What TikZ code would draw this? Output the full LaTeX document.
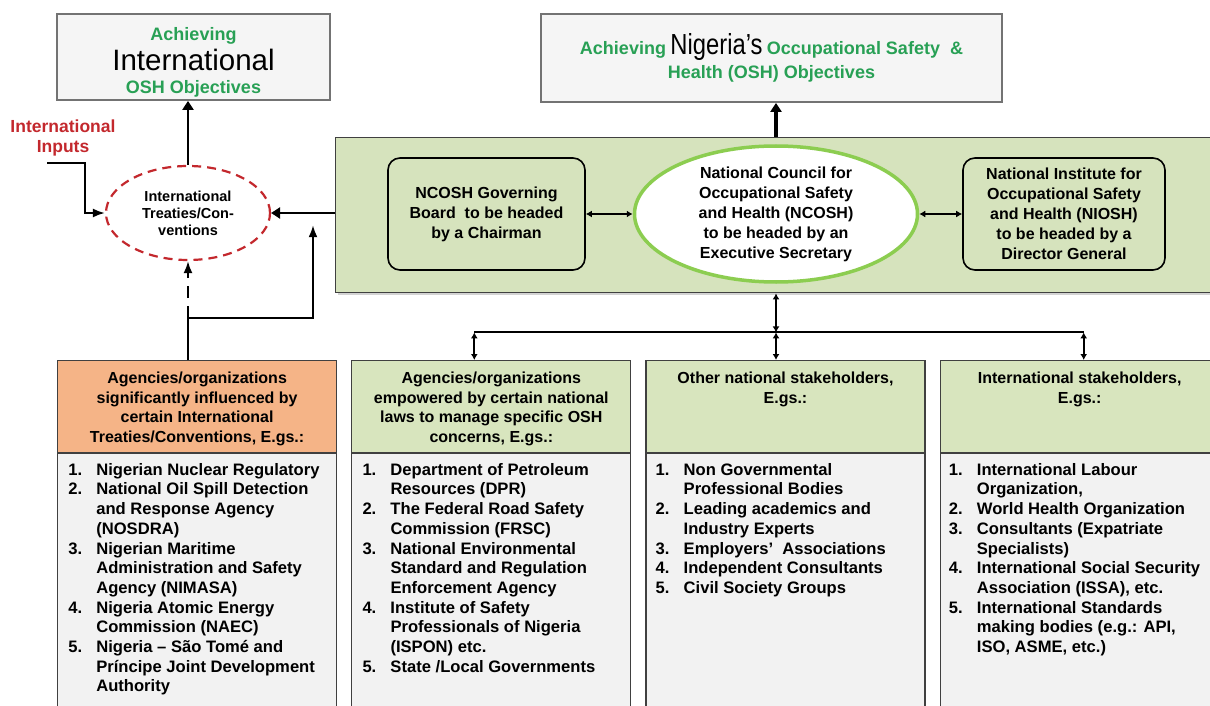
\documentclass[tikz,border=0pt]{standalone}
\usepackage{fontspec}
\setmainfont{Liberation Sans}
\usetikzlibrary{arrows.meta,shapes.geometric,positioning,calc,shadows}

\definecolor{oshgreen}{RGB}{40,160,85}
\definecolor{oshred}{RGB}{195,40,45}
\definecolor{bandgreen}{RGB}{214,227,189}
\definecolor{hdrgreen}{RGB}{216,229,190}
\definecolor{hdrorange}{RGB}{245,180,135}
\definecolor{ringgreen}{RGB}{140,205,80}

\newcommand{\oshlist}[1]{\begin{tabular}{@{}p{28pt}@{}l@{}}#1\end{tabular}}
\newcommand{\oshgoal}[1]{{\color{oshgreen}\fontsize{18}{20}\selectfont #1}}

\begin{document}
\begin{tikzpicture}[x=1pt,y=-1pt,>=Latex,semithick,font=\bfseries\fontsize{16}{20}\selectfont]
  \tikzstyle{goal}=[draw=black!55, line width=1.8pt, fill=black!4, align=center, inner sep=0pt]
  \tikzstyle{band}=[draw=black!75, line width=1.4pt, fill=bandgreen, anchor=north west, drop shadow={opacity=0.35}]
  \tikzstyle{unit}=[draw=black, line width=1.6pt, rounded corners=12pt, fill=bandgreen, align=center, inner sep=0pt]
  \tikzstyle{hdr}=[draw=black!75, line width=1.2pt, minimum width=279pt, minimum height=92pt, anchor=north west, inner sep=0pt]
  \tikzstyle{hdrtext}=[align=center, anchor=north, inner sep=0pt, font=\bfseries\fontsize{16}{19.5}\selectfont]
  \tikzstyle{lst}=[draw=black!75, line width=1.2pt, fill=black!5, minimum width=279pt, minimum height=270pt, inner sep=0pt]
  \tikzstyle{lsttext}=[anchor=north west, inner sep=0pt, font=\bfseries\fontsize{16.6}{19.7}\selectfont]
  \tikzstyle{flow}=[->, line width=2.6pt, >={Triangle[length=9pt,width=11pt]}]
  \tikzstyle{link}=[<->, line width=2pt, >={Latex[length=6pt,width=7pt]}]
  \tikzstyle{wire}=[line width=2pt]

  \useasboundingbox (0,0) rectangle (1210,706);

  % objectives
  \node[goal, minimum width=273pt, minimum height=86pt] (intobj) at (193.5,57) {};
  \node[align=center, inner sep=0pt] (intobjtext) at (193.5,62)
    {\oshgoal{Achieving}\\[4pt]{\fontsize{29.5}{30}\selectfont\mdseries International}\\[3pt]\oshgoal{OSH Objectives}};
  \node[goal, minimum width=461pt, minimum height=88pt] (natobj) at (771.5,58)
    {\oshgoal{Achieving} {\fontsize{29}{30}\selectfont\mdseries\scalebox{0.82}[1]{Nigeria’s}} \oshgoal{Occupational Safety~ \&}\\[4pt]\oshgoal{Health (OSH) Objectives}};

  % national council band
  \node[band, minimum width=880pt, minimum height=155pt] (band) at (335,137) {};
  \node[unit, minimum width=197pt, minimum height=112pt] (board) at (486.5,214)
    {NCOSH Governing\\Board~ to be headed\\by a Chairman};
  \node[ellipse, draw=ringgreen, line width=3.5pt, fill=white, minimum width=283pt, minimum height=136pt, align=center, inner sep=0pt] (ncosh) at (776,214)
    {National Council for\\Occupational Safety\\and Health (NCOSH)\\to be headed by an\\Executive Secretary};
  \node[unit, minimum width=202pt, minimum height=112pt] (niosh) at (1064,214)
    {National Institute for\\Occupational Safety\\and Health (NIOSH)\\to be headed by a\\Director General};

  % international side
  \node[ellipse, draw=oshred, dash pattern=on 9pt off 6pt, line width=2.2pt, minimum width=164pt, minimum height=94pt, align=center, inner sep=0pt,
        font=\bfseries\fontsize{14.5}{17}\selectfont] (treaty) at (188,213) {International\\Treaties/Con-\\ventions};
  \node[text=oshred, align=center, inner sep=0pt, font=\bfseries\fontsize{17.5}{20}\selectfont] (inputs) at (63,138) {International\\Inputs};
  \coordinate (in0) at (47,163);

  % stakeholder columns
  \node[hdr, fill=hdrorange] (h1) at (57,360) {};
  \node[hdr, fill=hdrgreen, right=14pt of h1] (h2) {};
  \node[hdr, fill=hdrgreen, right=14pt of h2] (h3) {};
  \node[hdr, fill=hdrgreen, right=14pt of h3] (h4) {};
  \node[hdrtext, below=12pt of h1.north] (t1) {Agencies/organizations\\significantly influenced by\\certain International\\Treaties/Conventions, E.gs.:};
  \node[hdrtext, below=12pt of h2.north] (t2) {Agencies/organizations\\empowered by certain national\\laws to manage specific OSH\\concerns, E.gs.:};
  \node[hdrtext, below=12pt of h3.north] (t3) {Other national stakeholders,\\E.gs.:};
  \node[hdrtext, below=12pt of h4.north] (t4) {International stakeholders,\\E.gs.:};

  \node[lst, below=0pt of h1] (l1) {};
  \node[lst, below=0pt of h2] (l2) {};
  \node[lst, below=0pt of h3] (l3) {};
  \node[lst, below=0pt of h4] (l4) {};
  \node[lsttext] (e1) at ($(l1.north west)+(11,8)$) {\oshlist{
    1. & Nigerian Nuclear Regulatory\\
    2. & National Oil Spill Detection\\
       & and Response Agency\\
       & (NOSDRA)\\
    3. & Nigerian Maritime\\
       & Administration and Safety\\
       & Agency (NIMASA)\\
    4. & Nigeria Atomic Energy\\
       & Commission (NAEC)\\
    5. & Nigeria -- São Tomé and\\
       & Príncipe Joint Development\\
       & Authority}};
  \node[lsttext] (e2) at ($(l2.north west)+(11,8)$) {\oshlist{
    1. & Department of Petroleum\\
       & Resources (DPR)\\
    2. & The Federal Road Safety\\
       & Commission (FRSC)\\
    3. & National Environmental\\
       & Standard and Regulation\\
       & Enforcement Agency\\
    4. & Institute of Safety\\
       & Professionals of Nigeria\\
       & (ISPON) etc.\\
    5. & State /Local Governments}};
  \node[lsttext] (e3) at ($(l3.north west)+(10,8)$) {\oshlist{
    1. & Non Governmental\\
       & Professional Bodies\\
    2. & Leading academics and\\
       & Industry Experts\\
    3. & Employers’~ Associations\\
    4. & Independent Consultants\\
    5. & Civil Society Groups}};
  \node[lsttext] (e4) at ($(l4.north west)+(9,8)$) {\oshlist{
    1. & International Labour\\
       & Organization,\\
    2. & World Health Organization\\
    3. & Consultants (Expatriate\\
       & Specialists)\\
    4. & International Social Security\\
       & Association (ISSA), etc.\\
    5. & International Standards\\
       & making bodies (e.g.: API,\\
       & ISO, ASME, etc.)}};

  % connectors
  \draw[flow, line width=4pt] (band.north -| ncosh) -- (ncosh |- natobj.south);
  \draw[flow] (treaty.north) -- (treaty.north |- intobj.south);
  \draw[flow] (band.west |- treaty.east) -- (treaty.east);
  \draw[link] (board.east) -- (ncosh.west);
  \draw[link] (ncosh.east) -- (niosh.west);
  \draw[wire, ->] (in0) -- ++(38,0) |- (treaty.west);

  \coordinate (split) at ($(treaty.south |- h1.north)+(0,-42)$);
  \coordinate (tap) at ($(band.west)+(-22,10)$);
  \draw[wire] (treaty.south |- h1.north) -- (split);
  \draw[wire, ->, dash pattern=on 12pt off 8pt] (split) -- (treaty.south);
  \draw[wire, ->] (split) -| (tap);

  \coordinate (hub) at ($(band.south -| ncosh)+(0,39)$);
  \coordinate (f2) at ($(h2.north)+(-17,0)$);
  \coordinate (f3) at (hub |- h3.north);
  \coordinate (f4) at ($(h4.north)+(4,0)$);
  \draw[link] (band.south -| ncosh) -- (hub);
  \draw[wire] (hub -| f2) -- (hub -| f4);
  \draw[link] (hub -| f2) -- (f2);
  \draw[link] (hub) -- (f3);
  \draw[link] (hub -| f4) -- (f4);
\end{tikzpicture}
\end{document}
